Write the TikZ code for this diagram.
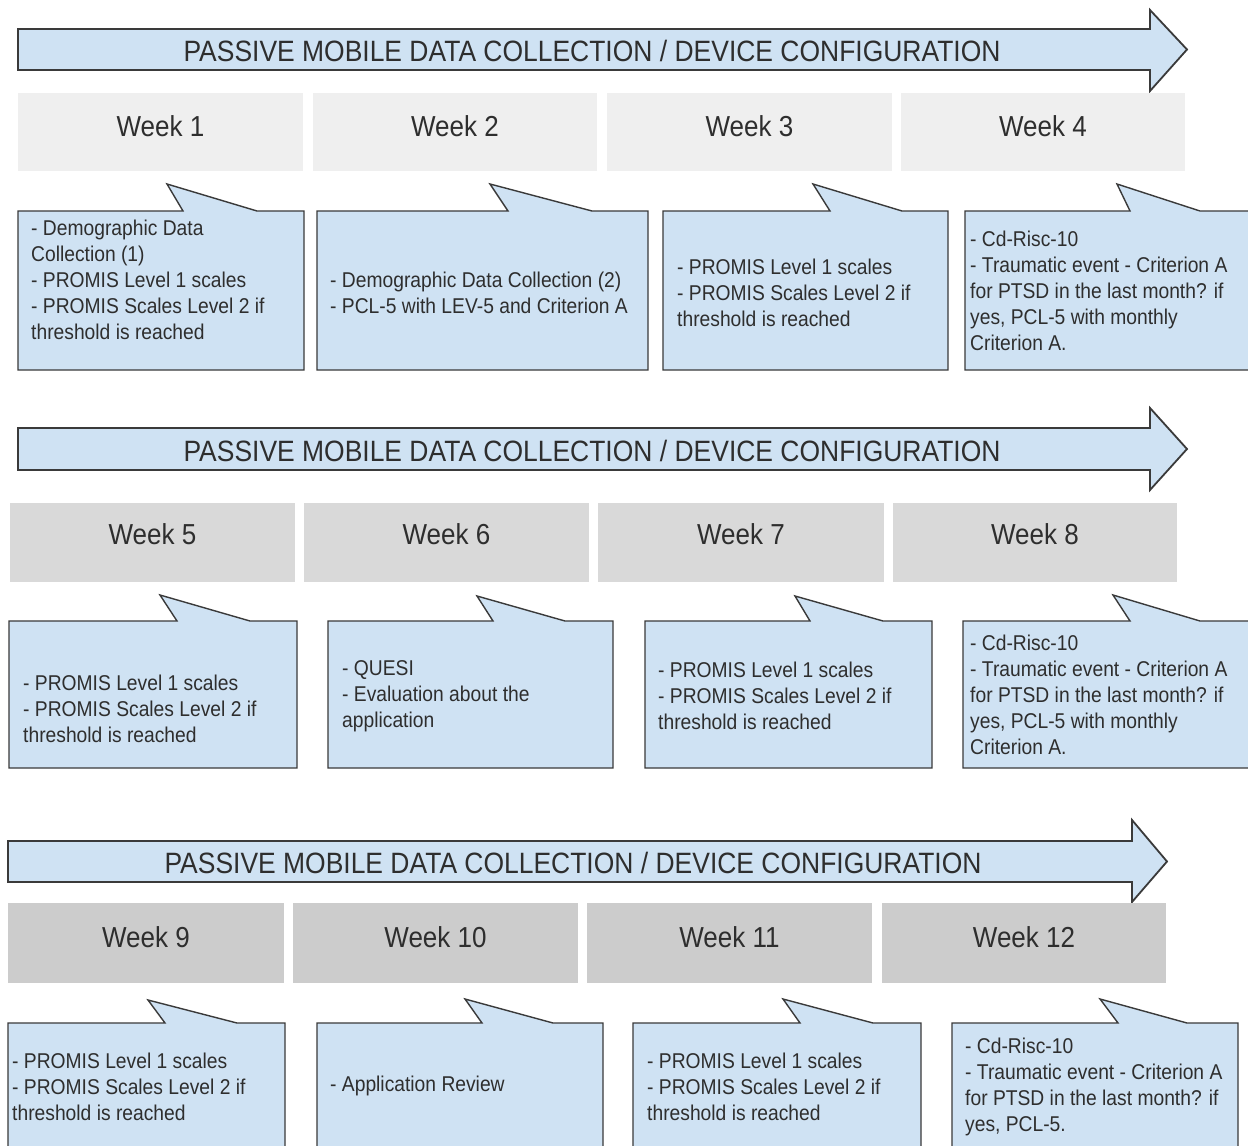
\documentclass[tikz,border=0pt]{standalone}
\usepackage{fontspec}
\setmainfont[FakeStretch=0.9]{Liberation Sans}
\definecolor{cblue}{HTML}{CFE2F3}
\definecolor{edge}{HTML}{3A3A3A}
\definecolor{rowa}{HTML}{EFEFEF}
\definecolor{rowb}{HTML}{D9D9D9}
\definecolor{rowc}{HTML}{CCCCCC}
\definecolor{ink}{HTML}{2E2E2E}
\tikzset{
  bigarrow/.style={fill=cblue, draw=edge, line width=1.8pt, line join=miter},
  calloutshape/.style={fill=cblue, draw=edge, line width=1.4pt, line join=miter},
  titletext/.style={inner sep=0pt, text=ink, font=\fontsize{29.4}{34}\selectfont},
  weektext/.style={inner sep=0pt, text=ink, font=\fontsize{28.9}{34}\selectfont},
  bodytext/.style={inner sep=0pt, anchor=west, align=left, text=ink, font=\fontsize{21.4}{26}\selectfont},
}
\newcommand\mycallout[8]{%
  \draw[calloutshape] (#1,#3) -- (#5,#3) -- (#6,#7) -- (#8,#3) -- (#2,#3) -- (#2,#4) -- (#1,#4) -- cycle;}
\newcommand\myarrow[7]{%
  \draw[bigarrow] (#1,#2) -- (#4,#2) -- (#4,#5) -- (#7,{(#2+#3)/2}) -- (#4,#6) -- (#4,#3) -- (#1,#3) -- cycle;}
\begin{document}
\begin{tikzpicture}[x=1pt,y=-1pt]
\useasboundingbox (0,0) rectangle (1248,1146);
\fill[white] (0,0) rectangle (1248,1146);

% ---------------- Row 1 ----------------
\myarrow{18}{29}{70}{1150}{10}{91}{1187}
\node[titletext] (t1) at (592,51) {PASSIVE MOBILE DATA COLLECTION / DEVICE CONFIGURATION};
\fill[rowa] (18,93) rectangle (303,171);
\fill[rowa] (313,93) rectangle (597,171);
\fill[rowa] (607,93) rectangle (892,171);
\fill[rowa] (901,93) rectangle (1185,171);
\node[weektext] (w1) at (160.5,126) {Week 1};
\node[weektext] (w2) at (455,126) {Week 2};
\node[weektext] (w3) at (749.5,126) {Week 3};
\node[weektext] (w4) at (1043,126) {Week 4};
\mycallout{18}{304}{211}{370}{183}{167}{184}{257}
\mycallout{317}{648}{211}{370}{508}{490}{184}{592}
\mycallout{663}{948}{211}{370}{830}{813}{184}{902}
\mycallout{965}{1252}{211}{370}{1130}{1117}{184}{1200}
\node[bodytext] (c1) at (31,280) {- Demographic Data\\Collection (1)\\- PROMIS Level 1 scales\\- PROMIS Scales Level 2 if\\threshold is reached};
\node[bodytext] (c2) at (330,293) {- Demographic Data Collection (2)\\- PCL-5 with LEV-5 and Criterion A};
\node[bodytext] (c3) at (677,293) {- PROMIS Level 1 scales\\- PROMIS Scales Level 2 if\\threshold is reached};
\node[bodytext] (c4) at (970,291) {- Cd-Risc-10\\- Traumatic event - Criterion A\\for PTSD in the last month? if\\yes, PCL-5 with monthly\\Criterion A.};

% ---------------- Row 2 ----------------
\myarrow{18}{428}{470}{1150}{408}{490}{1187}
\node[titletext] (t2) at (592,451) {PASSIVE MOBILE DATA COLLECTION / DEVICE CONFIGURATION};
\fill[rowb] (10,503) rectangle (295,582);
\fill[rowb] (304,503) rectangle (589,582);
\fill[rowb] (598,503) rectangle (884,582);
\fill[rowb] (893,503) rectangle (1177,582);
\node[weektext] (w5) at (152.5,534) {Week 5};
\node[weektext] (w6) at (446.5,534) {Week 6};
\node[weektext] (w7) at (741,534) {Week 7};
\node[weektext] (w8) at (1035,534) {Week 8};
\mycallout{9}{297}{621}{768}{177}{160}{595}{250}
\mycallout{328}{613}{621}{768}{493}{477}{596}{565}
\mycallout{645}{932}{621}{768}{810}{795}{596}{883}
\mycallout{963}{1252}{621}{768}{1130}{1113}{595}{1200}
\node[bodytext] (c5) at (23,709) {- PROMIS Level 1 scales\\- PROMIS Scales Level 2 if\\threshold is reached};
\node[bodytext] (c6) at (342,696) {- QUESI\\- Evaluation about the\\application};
\node[bodytext] (c7) at (658,696) {- PROMIS Level 1 scales\\- PROMIS Scales Level 2 if\\threshold is reached};
\node[bodytext] (c8) at (970,695) {- Cd-Risc-10\\- Traumatic event - Criterion A\\for PTSD in the last month? if\\yes, PCL-5 with monthly\\Criterion A.};

% ---------------- Row 3 ----------------
\myarrow{8}{841}{882}{1132}{820}{902}{1167}
\node[titletext] (t3) at (573,863) {PASSIVE MOBILE DATA COLLECTION / DEVICE CONFIGURATION};
\fill[rowc] (8,903) rectangle (284,983);
\fill[rowc] (293,903) rectangle (578,983);
\fill[rowc] (587,903) rectangle (872,983);
\fill[rowc] (882,903) rectangle (1166,983);
\node[weektext] (w9) at (146,937) {Week 9};
\node[weektext] (w10) at (435.5,937) {Week 10};
\node[weektext] (w11) at (729.5,937) {Week 11};
\node[weektext] (w12) at (1024,937) {Week 12};
\mycallout{8}{285}{1023}{1165}{165}{148}{1000}{237}
\mycallout{317}{603}{1023}{1165}{482}{465}{999}{553}
\mycallout{633}{921}{1023}{1165}{800}{783}{999}{873}
\mycallout{952}{1238}{1023}{1165}{1118}{1100}{999}{1187}
\node[bodytext] (c9) at (12,1087) {- PROMIS Level 1 scales\\- PROMIS Scales Level 2 if\\threshold is reached};
\node[bodytext] (c10) at (330,1086) {- Application Review};
\node[bodytext] (c11) at (647,1087) {- PROMIS Level 1 scales\\- PROMIS Scales Level 2 if\\threshold is reached};
\node[bodytext] (c12) at (965,1087) {- Cd-Risc-10\\- Traumatic event - Criterion A\\for PTSD in the last month? if\\yes, PCL-5.};
\end{tikzpicture}
\end{document}
